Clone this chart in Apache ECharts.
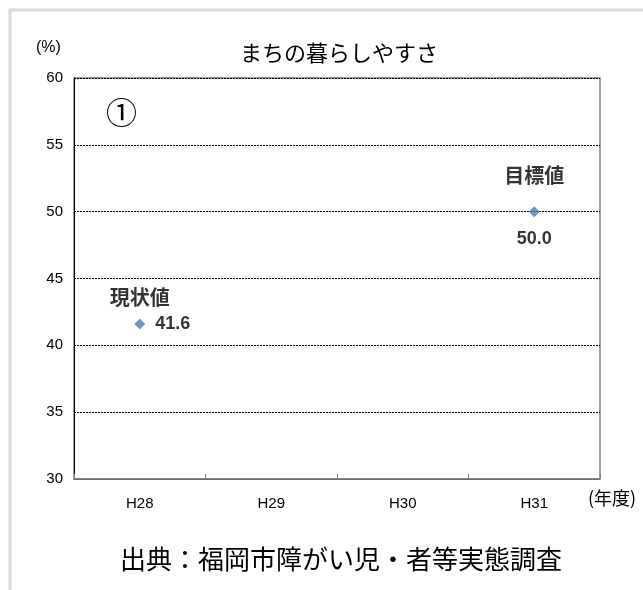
<!DOCTYPE html>
<html><head><meta charset="utf-8">
<script src="https://cdn.jsdelivr.net/npm/echarts@6/dist/echarts.min.js"></script>
<style>html,body{margin:0;padding:0;background:#fff}#c{width:643px;height:590px}</style>
</head><body><div id="c"></div>
<script>
const categories = ['H28', 'H29', 'H30', 'H31'];
const values = [41.6, null, null, 50.0];
const valueLabels = ['41.6', '', '', '50.0'];
const annotations = ['現状値', '', '', '目標値'];
const yTicks = [30, 35, 40, 45, 50, 55, 60];
const titleText = 'まちの暮らしやすさ';
const sourceText = '出典：福岡市障がい児・者等実態調査';

const FONT = '"Liberation Sans",Arial,sans-serif';
const JFONT = '"Noto Sans CJK JP",sans-serif';
const chart = echarts.init(document.getElementById('c'), null, {renderer: 'canvas'});

const valueData = values.map((v, i) => v == null ? null : {
  value: v,
  label: i === 0
    ? {position: 'right', distance: 10, formatter: valueLabels[i]}
    : {position: 'bottom', distance: 13, formatter: valueLabels[i]}
});
const annotData = values.map((v, i) => v == null ? null : {
  value: v,
  label: i === 0
    ? {position: 'top', distance: 16, formatter: annotations[i]}
    : {position: 'top', distance: 26, formatter: annotations[i]}
});

chart.setOption({
  animation: false,
  backgroundColor: '#fff',
  title: {
    text: titleText, left: 334, top: 37, textAlign: 'center',
    textStyle: {fontFamily: JFONT, fontSize: 22, fontWeight: 'normal', color: '#000'}
  },
  grid: {left: 74, right: 43, top: 78, bottom: 111, show: true, borderColor: '#808080', borderWidth: 1.5, containLabel: false},
  xAxis: {
    type: 'category', data: categories, boundaryGap: true,
    axisLine: {lineStyle: {color: '#808080', width: 1.5}},
    axisTick: {show: true, inside: true, length: 5, lineStyle: {color: '#808080'}},
    axisLabel: {color: '#000', fontSize: 15, fontFamily: FONT, margin: 17},
    splitLine: {show: false}
  },
  yAxis: {
    type: 'value', min: 30, max: 60, interval: 5,
    axisLine: {show: true, lineStyle: {color: '#000', width: 1}},
    axisTick: {show: false},
    axisLabel: {color: '#000', fontSize: 15, fontFamily: FONT, margin: 11,
      formatter: v => yTicks.includes(v) ? String(v) : ''},
    splitLine: {show: true, lineStyle: {color: '#000', width: 1, type: [2, 1]}}
  },
  series: [
    {
      type: 'scatter', data: valueData, symbol: 'diamond', symbolSize: 11,
      itemStyle: {color: '#4a7ebb'}, z: 3,
      label: {show: true, color: '#000', fontSize: 18, fontWeight: 'bold', fontFamily: FONT}
    },
    {
      type: 'scatter', data: annotData, symbol: 'circle', symbolSize: 1,
      itemStyle: {color: 'rgba(0,0,0,0)'}, silent: true, z: 4,
      label: {show: true, color: '#000', fontSize: 20, fontWeight: 'bold', fontFamily: JFONT}
    }
  ],
  graphic: [
    {type: 'rect', shape: {x: 10, y: 10, width: 700, height: 700}, style: {fill: 'none', stroke: '#d9d9d9', lineWidth: 3}, z: -1},
    {type: 'text', left: 36, top: 40, style: {text: '(%)', fontSize: 16, fontFamily: FONT, fill: '#000'}},
    {type: 'text', left: 106, top: 97, style: {text: '①', fontSize: 31, fontFamily: JFONT, fill: '#000'}},
    {type: 'text', left: 588, top: 489, style: {text: '(年度)', fontSize: 18, fontFamily: JFONT, fill: '#000'}},
    {type: 'text', x: 341, y: 546, style: {text: sourceText, fontSize: 26, fontFamily: JFONT, fill: '#000', align: 'center', textAlign: 'center'}}
  ]
});
</script></body></html>
